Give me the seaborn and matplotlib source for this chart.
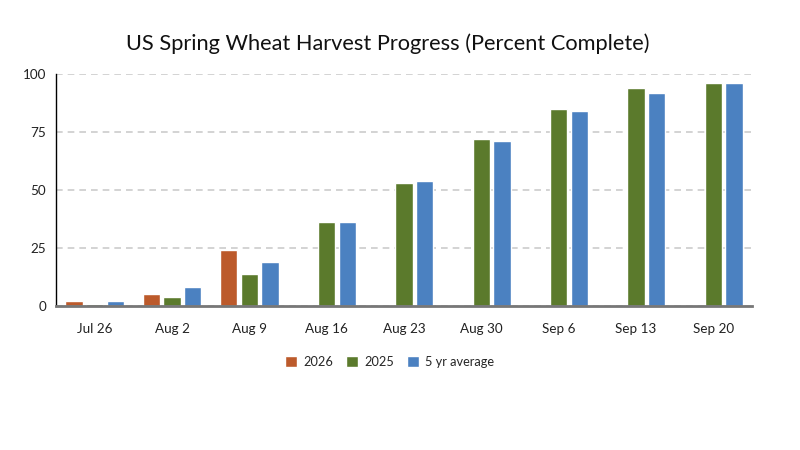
import matplotlib
matplotlib.use("Agg")
import matplotlib.pyplot as plt
import seaborn as sns
import numpy as np
import pandas as pd

weeks = ["Jul 26", "Aug 2", "Aug 9", "Aug 16", "Aug 23", "Aug 30", "Sep 6", "Sep 13", "Sep 20"]
pct_2026 = [2, 5, 24, np.nan, np.nan, np.nan, np.nan, np.nan, np.nan]
pct_2025 = [1, 4, 14, 36, 53, 72, 85, 94, 96]
pct_5yr = [2, 8, 19, 36, 54, 71, 84, 92, 96]
series = ["2026", "2025", "5 yr average"]
colors = ["#BC5A2B", "#5B7A2C", "#4B81C1"]

df = pd.DataFrame({
    "Week": weeks * 3,
    "Series": np.repeat(series, len(weeks)),
    "Percent": pct_2026 + pct_2025 + pct_5yr,
})

sns.set_theme(style="white")
plt.rcParams["font.family"] = ["Lato", "DejaVu Sans"]

fig = plt.figure(figsize=(8, 4.5), dpi=100)
ax = fig.add_axes([0.07, 0.32, 0.87, 0.5156])

sns.barplot(data=df, x="Week", y="Percent", hue="Series", palette=colors,
            width=0.8, gap=0.17, saturation=1, ax=ax)

ax.set_ylim(0, 100)
ax.set_yticks([0, 25, 50, 75, 100])
ax.set_xlim(-0.5, 8.5)
ax.grid(axis="y", color="#CCCCCC", linestyle=(0, (4, 3)), linewidth=1.2)
ax.set_axisbelow(True)
ax.set_xlabel("")
ax.set_ylabel("")
ax.tick_params(axis="both", length=0, labelsize=9.7, colors="#222222")
ax.tick_params(axis="x", pad=12)
ax.tick_params(axis="y", pad=7)
for s in ["top", "right"]:
    ax.spines[s].set_visible(False)
ax.spines["left"].set_color("#000000")
ax.spines["left"].set_linewidth(1)
ax.spines["bottom"].set_color("#777777")
ax.spines["bottom"].set_linewidth(2)

leg = ax.legend(loc="upper center", bbox_to_anchor=(0.479, -0.165), ncol=3, frameon=False,
                fontsize=9.2, handlelength=0.95, handleheight=0.95, columnspacing=1.0,
                handletextpad=0.5)

fig.text(0.485, 0.902, "US Spring Wheat Harvest Progress (Percent Complete)",
         ha="center", va="center", fontsize=15.7, color="#111111")

plt.savefig("out.png", dpi=100)
plt.close()
